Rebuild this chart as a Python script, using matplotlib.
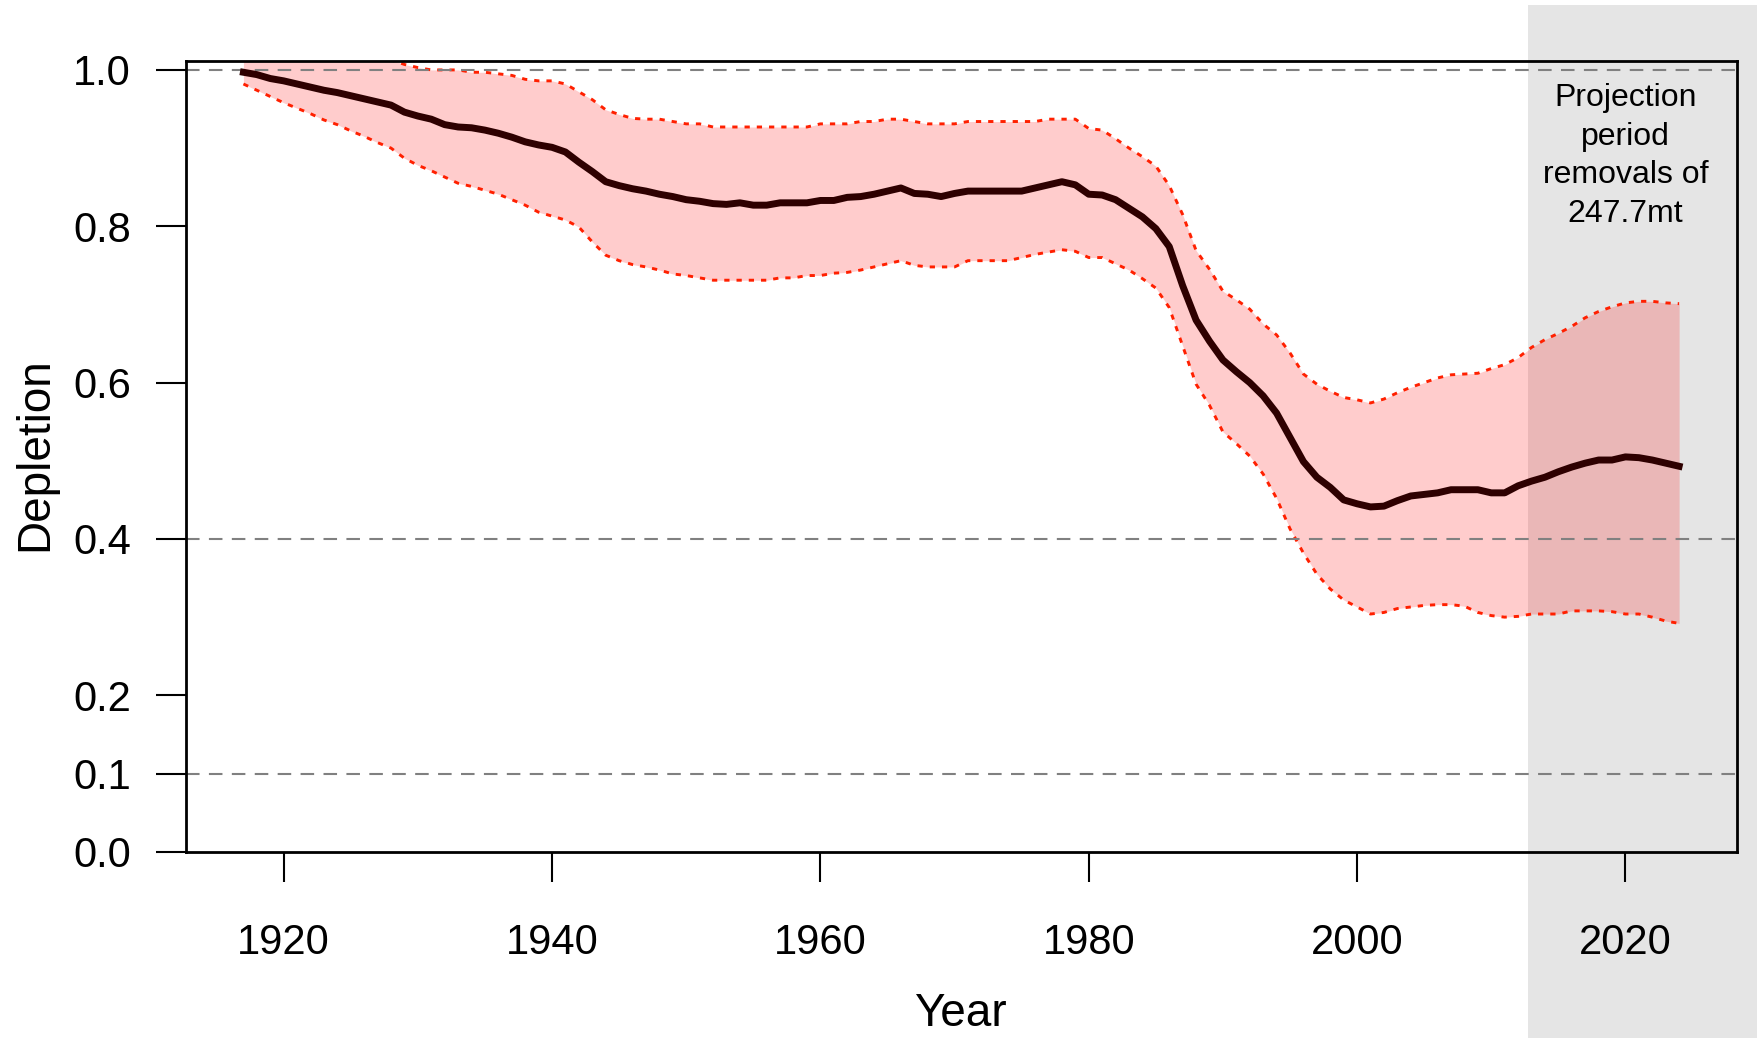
import numpy as np
import matplotlib
matplotlib.use("Agg")
import matplotlib.pyplot as plt
from matplotlib.patches import Rectangle
from matplotlib.transforms import blended_transform_factory

plt.rcParams['font.family'] = ['Liberation Sans', 'DejaVu Sans']

# data
years = np.arange(1917, 2025)

median = [0.997, 0.994, 0.989, 0.986, 0.982, 0.978, 0.974, 0.971, 0.967, 0.963,
          0.959, 0.955, 0.946, 0.941, 0.937, 0.930, 0.927, 0.926, 0.923, 0.919,
          0.914, 0.908, 0.904, 0.901, 0.895, 0.882, 0.870, 0.857, 0.852, 0.848,
          0.845, 0.841, 0.838, 0.834, 0.832, 0.829, 0.828, 0.830, 0.827, 0.827,
          0.830, 0.830, 0.830, 0.833, 0.833, 0.837, 0.838, 0.841, 0.845, 0.849,
          0.842, 0.841, 0.838, 0.842, 0.845, 0.845, 0.845, 0.845, 0.845, 0.849,
          0.853, 0.857, 0.853, 0.841, 0.840, 0.834, 0.823, 0.812, 0.797, 0.774,
          0.724, 0.680, 0.653, 0.629, 0.614, 0.600, 0.583, 0.561, 0.530, 0.499,
          0.479, 0.466, 0.450, 0.445, 0.441, 0.442, 0.449, 0.455, 0.457, 0.459,
          0.463, 0.463, 0.463, 0.459, 0.459, 0.468, 0.474, 0.479, 0.486, 0.492,
          0.497, 0.501, 0.501, 0.505, 0.504, 0.501, 0.497, 0.493]

upper = [1.015, 1.018, 1.020, 1.022, 1.023, 1.023, 1.022, 1.021, 1.020, 1.018,
         1.016, 1.013, 1.007, 1.003, 1.000, 1.000, 1.000, 0.997, 0.997, 0.995,
         0.993, 0.988, 0.986, 0.986, 0.982, 0.972, 0.962, 0.949, 0.943, 0.938,
         0.937, 0.937, 0.934, 0.931, 0.931, 0.927, 0.927, 0.927, 0.927, 0.927,
         0.927, 0.927, 0.927, 0.931, 0.931, 0.931, 0.934, 0.934, 0.937, 0.937,
         0.934, 0.931, 0.931, 0.931, 0.934, 0.934, 0.934, 0.934, 0.934, 0.934,
         0.937, 0.937, 0.937, 0.925, 0.923, 0.912, 0.900, 0.889, 0.877, 0.852,
         0.815, 0.769, 0.745, 0.717, 0.706, 0.694, 0.675, 0.661, 0.638, 0.611,
         0.598, 0.589, 0.581, 0.578, 0.574, 0.579, 0.587, 0.594, 0.600, 0.606,
         0.610, 0.611, 0.612, 0.618, 0.623, 0.632, 0.645, 0.655, 0.663, 0.672,
         0.683, 0.691, 0.697, 0.702, 0.704, 0.704, 0.702, 0.701]

lower = [0.982, 0.974, 0.966, 0.958, 0.951, 0.944, 0.936, 0.930, 0.922, 0.915,
         0.907, 0.900, 0.887, 0.878, 0.871, 0.863, 0.855, 0.851, 0.846, 0.841,
         0.834, 0.827, 0.818, 0.813, 0.808, 0.799, 0.780, 0.763, 0.756, 0.751,
         0.748, 0.744, 0.739, 0.737, 0.734, 0.731, 0.731, 0.731, 0.731, 0.731,
         0.734, 0.734, 0.737, 0.737, 0.740, 0.741, 0.744, 0.748, 0.752, 0.756,
         0.750, 0.748, 0.748, 0.748, 0.756, 0.756, 0.756, 0.756, 0.760, 0.764,
         0.767, 0.770, 0.768, 0.760, 0.760, 0.752, 0.744, 0.733, 0.721, 0.696,
         0.647, 0.598, 0.571, 0.537, 0.522, 0.506, 0.483, 0.452, 0.413, 0.382,
         0.355, 0.336, 0.322, 0.313, 0.304, 0.306, 0.311, 0.313, 0.315, 0.316,
         0.316, 0.314, 0.306, 0.302, 0.300, 0.301, 0.304, 0.304, 0.304, 0.308,
         0.308, 0.308, 0.307, 0.304, 0.304, 0.300, 0.295, 0.292]

ref_lines = [1.0, 0.4, 0.1]
projection_start = 2012.75
note_lines = ["Projection", "period", "removals of", "247.7mt"]

ytick_vals = [0.0, 0.1, 0.2, 0.4, 0.6, 0.8, 1.0]
ytick_labels = ["0.0", "0.1", "0.2", "0.4", "0.6", "0.8", "1.0"]
xtick_vals = [1920, 1940, 1960, 1980, 2000, 2020]

fig = plt.figure(figsize=(17.58, 10.38), dpi=100)
fig.patch.set_facecolor('white')
ax = fig.add_axes([0.1058, 0.1795, 0.8820, 0.7618])
ax.set_facecolor('none')

# projection period shading, runs past the plot box to the figure edge
tr = blended_transform_factory(ax.transData, fig.transFigure)
ax.add_patch(Rectangle((projection_start, 0), 40, 0.9952, transform=tr,
                       facecolor='#E5E5E5', edgecolor='none', clip_on=False, zorder=0))

ax.fill_between(years, lower, upper, color=(1, 0, 0, 0.2), lw=0, zorder=1)
ax.plot(years, upper, color='#FF2000', lw=2.1, ls=(0, (1.8, 2.4)), zorder=2)
ax.plot(years, lower, color='#FF2000', lw=2.1, ls=(0, (1.8, 2.4)), zorder=2)

for h in ref_lines:
    ax.axhline(h, color='#808080', lw=1.5, ls=(0, (6.5, 4.5)), zorder=2.5)

ax.plot(years, median, color='#2E0000', lw=5, zorder=3)

ax.set_xlim(1912.72, 2028.28)
ax.set_ylim(0, 1.0115)
ax.set_xticks(xtick_vals)
ax.set_yticks(ytick_vals)
ax.set_yticklabels(ytick_labels)

for s in ax.spines.values():
    s.set_linewidth(2)
    s.set_zorder(4)
ax.tick_params(axis='both', direction='out', length=21.6, width=1.5, labelsize=30)
ax.tick_params(axis='x', pad=30)
ax.tick_params(axis='y', pad=18)

fig.text(960 / 1758, 1 - 1026 / 1038, "Year", ha='center', va='baseline', fontsize=33)
fig.text(35.5 / 1758, 1 - 454 / 1038, "Depletion", rotation=90, ha='center', va='center',
         fontsize=33)

for i, line in enumerate(note_lines):
    yb = 1 - (106 + 38.5 * i) / 1038
    ax.text(2020, yb, line, transform=tr, ha='center', va='baseline', fontsize=23)

fig.savefig("out.png", dpi=100)
